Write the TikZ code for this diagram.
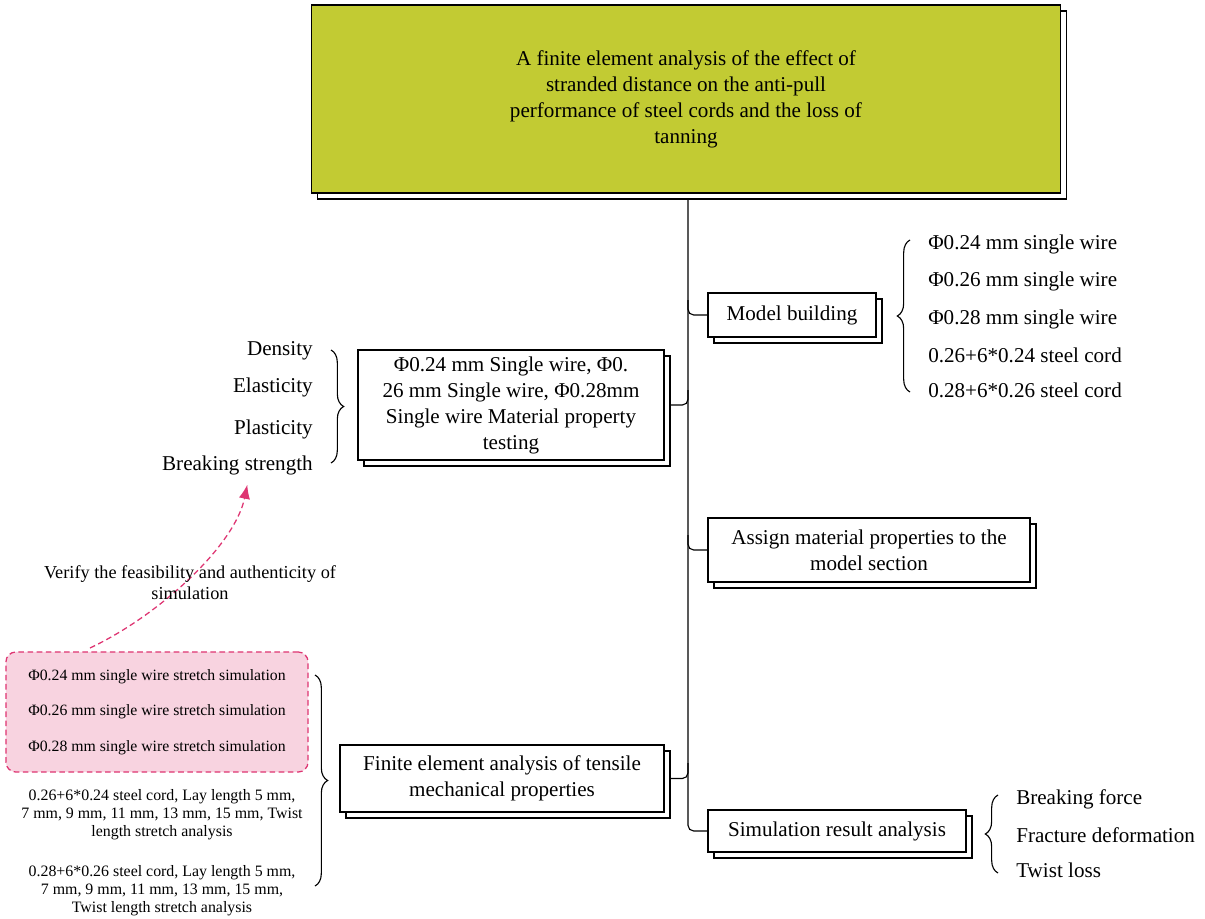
\documentclass[tikz,border=0pt]{standalone}
\usepackage{fontspec}
\setmainfont{Liberation Serif}
\usetikzlibrary{shadows,backgrounds,decorations.pathreplacing,arrows.meta}
\definecolor{olive}{HTML}{C2CB33}
\definecolor{pinkfill}{HTML}{F8D3E0}
\definecolor{crimson}{HTML}{DE3572}
\tikzset{
  stackbox/.style={draw, fill=white, line width=0.8pt, align=center, inner sep=0pt,
    font=\fontsize{15}{18.5}\selectfont,
    general shadow={draw=black, fill=white, line width=0.8pt,
      shadow xshift=0.15cm, shadow yshift=-0.15cm}},
  leaf/.style={inner sep=0pt, font=\fontsize{15}{18}\selectfont},
  note/.style={inner sep=0pt, align=center, font=\fontsize{11.3}{12.8}\selectfont},
  bracket/.style={decorate, decoration={brace, amplitude=9pt}, line width=0.8pt},
  link/.style={line width=0.8pt, rounded corners=4pt},
}
\begin{document}
\begin{tikzpicture}[x=0.025cm, y=-0.025cm]
    \useasboundingbox (0,0) rectangle (1205,919);

    % main boxes
    \node[stackbox, fill=olive, minimum width=18.7cm, minimum height=4.7cm] (title) at (686,99)
        {A finite element analysis of the effect of\\stranded distance on the anti-pull\\performance of steel cords and the loss of\\tanning};
    \node[stackbox, minimum width=4.2cm, minimum height=1.1cm] (model) at (792,315) {Model building};
    \node[stackbox, minimum width=7.65cm, minimum height=2.75cm] (mat) at (511,405)
        {Φ0.24 mm Single wire, Φ0.\\26 mm Single wire, Φ0.28mm\\Single wire Material property\\testing};
    \node[stackbox, minimum width=8.05cm, minimum height=1.6cm] (assign) at (869,550)
        {Assign material properties to the\\model section};
    \node[stackbox, minimum width=8.1cm, minimum height=1.675cm] (fea) at (502,778.5)
        {Finite element analysis of tensile\\mechanical properties};
    \node[stackbox, minimum width=6.45cm, minimum height=1.05cm] (sim) at (837,831) {Simulation result analysis};

    % trunk and branches
    \coordinate (t0) at (688,199);
    \coordinate (b1) at (688,300);
    \coordinate (b2) at (688,390);
    \coordinate (b3) at (688,535);
    \coordinate (b4) at (688,763);
    \begin{scope}[on background layer]
        \draw[link] (t0) |- (sim.west);
        \draw[link] (b1) |- (model.west);
        \draw[link] (b2) |- (mat.east);
        \draw[link] (b3) |- (assign.west);
        \draw[link] (b4) |- (fea.east);
    \end{scope}

    % model building items
    \node[leaf, anchor=west] (w24) at (928,244) {Φ0.24 mm single wire};
    \node[leaf, anchor=west] (w26) at (928,281) {Φ0.26 mm single wire};
    \node[leaf, anchor=west] (w28) at (928,319) {Φ0.28 mm single wire};
    \node[leaf, anchor=west] (c24) at (928,355) {0.26+6*0.24 steel cord};
    \node[leaf, anchor=west] (c26) at (928,390) {0.28+6*0.26 steel cord};
    \draw[bracket] (910,392) -- (910,240);

    % material items
    \node[leaf, anchor=east] (dens) at (313,351) {Density};
    \node[leaf, anchor=east] (elas) at (313,387) {Elasticity};
    \node[leaf, anchor=east] (plas) at (313,429) {Plasticity};
    \node[leaf, anchor=east] (brk) at (313,465) {Breaking strength};
    \draw[bracket] (331,350) -- (331,463);

    % simulation result items
    \node[leaf, anchor=west] (force) at (1016,799) {Breaking force};
    \node[leaf, anchor=west] (frac) at (1016,835) {Fracture deformation};
    \node[leaf, anchor=west] (twist) at (1016,870) {Twist loss};
    \draw[bracket] (998,873) -- (998,795);

    % finite element items
    \node[draw=crimson, fill=pinkfill, dash pattern=on 4pt off 2.5pt, line width=0.9pt, rounded corners=7pt,
        minimum width=7.55cm, minimum height=3cm, inner sep=0pt, align=center,
        font=\fontsize{11.2}{25.2}\selectfont] (pink) at (157,712)
        {Φ0.24 mm single wire stretch simulation\\Φ0.26 mm single wire stretch simulation\\Φ0.28 mm single wire stretch simulation};
    \node[note] (cordA) at (162,815)
        {0.26+6*0.24 steel cord, Lay length 5 mm,\\7 mm, 9 mm, 11 mm, 13 mm, 15 mm, Twist\\length stretch analysis};
    \node[note] (cordB) at (162,891)
        {0.28+6*0.26 steel cord, Lay length 5 mm,\\7 mm, 9 mm, 11 mm, 13 mm, 15 mm,\\Twist length stretch analysis};
    \draw[bracket] (315,675) -- (315,886);

    % verification arrow
    \coordinate (vfrom) at (90,648);
    \draw[crimson, line width=0.9pt, dash pattern=on 4pt off 2.5pt, -{Latex[length=10pt,width=8pt]}]
        (vfrom) .. controls (160,615) and (235,545) .. ([xshift=7pt,yshift=-7pt]brk.south);
    \node[align=center, inner sep=0pt, font=\fontsize{13}{15}\selectfont] (verify) at (190,583)
        {Verify the feasibility and authenticity of\\simulation};
\end{tikzpicture}
\end{document}
